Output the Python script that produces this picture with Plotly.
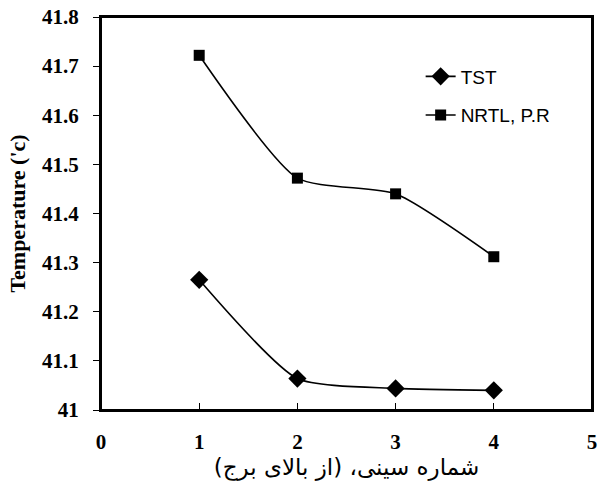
import plotly.graph_objects as go

tray = [1, 2, 3, 4]
tst = [41.265, 41.064, 41.044, 41.040]
nrtl = [41.722, 41.472, 41.440, 41.312]
xticks = [0, 1, 2, 3, 4, 5]
yticks = [41, 41.1, 41.2, 41.3, 41.4, 41.5, 41.6, 41.7, 41.8]
ytick_text = ["41", "41.1", "41.2", "41.3", "41.4", "41.5", "41.6", "41.7", "41.8"]

# Persian x title; trailing RLM keeps the closing parenthesis in the RTL run
x_title = "شماره سینی، (از بالای برج)" + "\u200f"

fig = go.Figure()
fig.add_trace(go.Scatter(
    x=tray, y=tst, name="TST", mode="lines+markers", legendgroup="a",
    line=dict(color="black", width=1.6, shape="spline", smoothing=0.6),
    marker=dict(symbol="diamond", size=14, color="black"),
))
fig.add_trace(go.Scatter(
    x=tray, y=nrtl, name="NRTL, P.R", mode="lines+markers", legendgroup="b",
    line=dict(color="black", width=1.6, shape="spline", smoothing=0.6),
    marker=dict(symbol="square", size=11, color="black"),
))

fig.add_shape(type="rect", xref="paper", yref="paper", x0=0, x1=1, y0=0, y1=1,
              line=dict(color="black", width=2), fillcolor="rgba(0,0,0,0)", layer="above")

fig.update_layout(
    width=602, height=489,
    margin=dict(l=101, r=5, t=12, b=79),
    paper_bgcolor="white", plot_bgcolor="white",
    showlegend=True,
    legend=dict(
        x=0.651, y=0.897, xanchor="left", yanchor="top",
        font=dict(family="Liberation Sans, Arial", size=19, color="black"),
        bgcolor="rgba(0,0,0,0)", tracegroupgap=11,
    ),
    xaxis=dict(
        range=[0, 5], tickvals=xticks, ticks="inside", ticklen=7, tickcolor="black",
        tickwidth=1.2,
        showline=True, linecolor="black", linewidth=2, mirror=True,
        showgrid=False, zeroline=False,
        tickfont=dict(family="Liberation Serif, Times New Roman", size=21, color="black", weight="bold"),
        ticklabelstandoff=12,
        title=dict(text=x_title,
                   font=dict(family="DejaVu Sans", size=23, color="black"),
                   standoff=0),
    ),
    yaxis=dict(
        range=[41, 41.8], tickvals=yticks, ticktext=ytick_text, ticks="outside", ticklen=6,
        tickcolor="black", tickwidth=1.2,
        showline=True, linecolor="black", linewidth=2, mirror=True,
        showgrid=False, zeroline=False,
        tickfont=dict(family="Liberation Serif, Times New Roman", size=21, color="black", weight="bold"),
        ticklabelstandoff=10,
        title=dict(text="Temperature ('c)",
                   font=dict(family="Liberation Serif, Times New Roman", size=22, color="black", weight="bold"),
                   standoff=10),
    ),
)

fig.write_html("out.html")
